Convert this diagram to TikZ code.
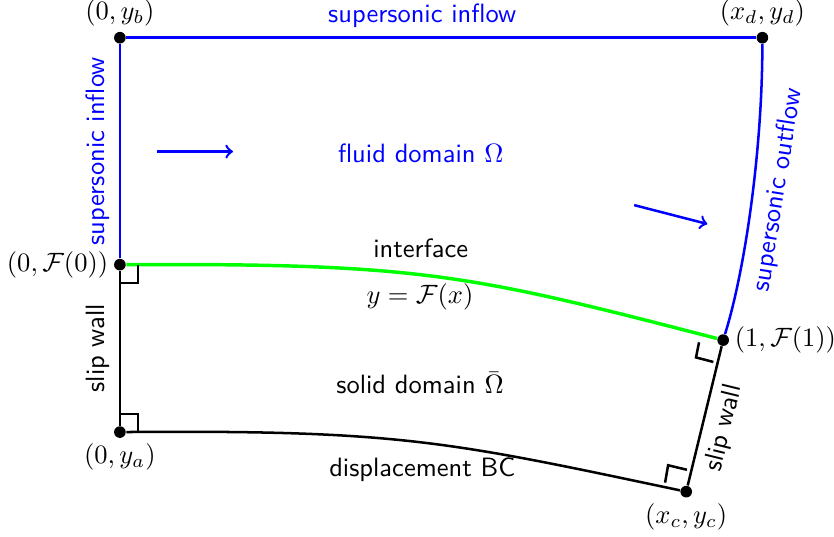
\documentclass[tikz,border=0pt]{standalone}
\usepackage{amsmath,amssymb}
\usetikzlibrary{calc}

\begin{document}
\begin{tikzpicture}[
    pt/.style = {circle, fill=black, inner sep=0pt, minimum size=4.4pt},
    wall/.style = {draw=black, line width=0.95pt},
    flow/.style = {draw=blue, line width=0.95pt},
    iface/.style = {draw=green, line width=1.3pt},
    rmark/.style = {draw=black, line width=0.95pt},
    txt/.style = {font=\sffamily},
    flowtxt/.style = {font=\sffamily, text=blue},
    label distance=-1.5pt
]

\useasboundingbox (0,0) rectangle (11.06,7.12);

% Corner points
\node (yb) [pt, label=above:{$(0,y_b)$}] at (1.59, 6.62) {};
\node (xd) [pt, label=above:{$(x_d,y_d)$}] at (10.11, 6.62) {};
\node (F0) [pt, label=left:{$(0,\mathcal{F}(0))$}] at (1.59, 3.61) {};
\node (F1) [pt, label=right:{$(1,\mathcal{F}(1))$}] at (9.59, 2.61) {};
\node (ya) [pt, label=below:{$(0,y_a)$}] at (1.59, 1.39) {};
\node (xc) [pt, label=below:{$(x_c,y_c)$}] at (9.10, 0.60) {};

% Fluid boundary
\draw [flow] (F0) -- node[sloped, above, flowtxt]{supersonic inflow} (yb);
\draw [flow] (yb) -- node[pos=0.47, above, flowtxt]{supersonic inflow} (xd);
\draw [flow] (xd) .. controls (10.11,5.13) and (9.88,3.54) .. (F1);

% Interface
\draw [iface] (F0) .. controls (5.57,3.63) and (6.23,3.48) .. (F1);

% Solid boundary
\draw [wall] (ya) -- node[sloped, above, txt]{slip wall} (F0);
\draw [wall] (ya) .. controls (5.31,1.42) and (5.97,1.26) .. (xc);
\draw [wall] (xc) -- node[sloped, below, pos=0.45, txt]{slip wall} (F1);

% Right angles
\draw [rmark] ($(F0)+(0.24,0)$) -- ++(0,-0.24) -- ++(-0.24,0);
\draw [rmark] ($(ya)+(0,0.24)$) -- ++(0.24,0) -- ++(0,-0.24);
\draw [rmark] ($(F1)+(-0.32,-0.03)$) -- ($(F1)+(-0.36,-0.23)$) -- ($(F1)+(-0.13,-0.29)$);
\draw [rmark] ($(xc)+(-0.28,0.12)$) -- ($(xc)+(-0.24,0.35)$) -- ($(xc)+(0.01,0.29)$);

% Flow direction
\coordinate (in1) at (2.08,5.11);
\coordinate (in2) at (3.09,5.11);
\coordinate (out1) at (8.41,4.40);
\coordinate (out2) at (9.38,4.15);
\draw [flow, ->] (in1) -- (in2);
\draw [flow, ->] (out1) -- (out2);

% Labels
\node (fluid) [flowtxt] at (5.58,5.09) {fluid domain $\Omega$};
\node (outflow) [flowtxt, rotate=81] at (10.32,4.60) {supersonic outflow};
\node (ifacetxt) [txt] at (5.58,3.83) {interface};
\node (feq) at (5.57,3.18) {$y=\mathcal{F}(x)$};
\node (solid) [txt] at (5.57,2.04) {solid domain $\bar{\Omega}$};
\node (dispbc) [txt] at (5.60,0.89) {displacement BC};

\end{tikzpicture}
\end{document}
